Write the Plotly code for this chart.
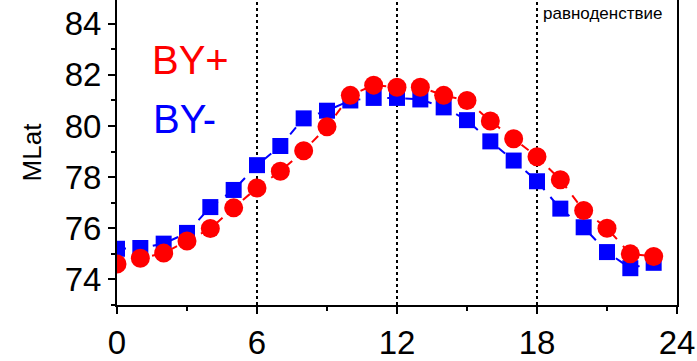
import plotly.graph_objects as go

# Local time (hours)
hours = list(range(24))

# Magnetic latitude of the boundary for positive and negative IMF By
mlat_by_plus = [74.6, 74.83, 75.03, 75.5, 75.99, 76.8, 77.58, 78.23, 79.03, 79.97,
                81.2, 81.6, 81.52, 81.52, 81.2, 81.0, 80.2, 79.5, 78.8, 77.9,
                76.7, 76.0, 75.0, 74.9]
mlat_by_minus = [75.2, 75.23, 75.4, 75.82, 76.83, 77.5, 78.47, 79.22, 80.3, 80.6,
                 81.0, 81.1, 81.1, 81.04, 80.73, 80.23, 79.4, 78.65, 77.84, 76.77,
                 76.04, 75.07, 74.44, 74.65]

marker_hours = [6, 12, 18]
x_ticks = [0, 6, 12, 18, 24]
y_ticks = [74, 76, 78, 80, 82, 84]

FONT = "Liberation Sans, Arial, sans-serif"

fig = go.Figure()

fig.add_trace(go.Scatter(
    x=hours, y=mlat_by_minus, mode="lines+markers",
    line=dict(color="#0000ff", width=2, dash="dash"),
    marker=dict(symbol="square", size=16, color="#0000ff"),
    showlegend=False,
))
fig.add_trace(go.Scatter(
    x=hours, y=mlat_by_plus, mode="lines+markers",
    line=dict(color="#ff0000", width=2, dash="dash"),
    marker=dict(symbol="circle", size=19, color="#ff0000"),
    showlegend=False,
))

for h in marker_hours:
    fig.add_shape(type="line", x0=h, x1=h, y0=0, y1=1, xref="x", yref="paper",
                  line=dict(color="black", width=2, dash="dot"), layer="below")

# Series labels inside the plot area (paper = plot-area fractions)
fig.add_annotation(x=0.132, y=0.804, xref="paper", yref="paper", text="BY+",
                   xanchor="center", yanchor="middle", showarrow=False,
                   font=dict(family=FONT, size=40, color="#ff0000"))
fig.add_annotation(x=0.12, y=0.611, xref="paper", yref="paper", text="BY-",
                   xanchor="center", yanchor="middle", showarrow=False,
                   font=dict(family=FONT, size=40, color="#0000ff"))
fig.add_annotation(x=0.977, y=0.955, xref="paper", yref="paper", text="равноденствие",
                   xanchor="right", yanchor="middle", showarrow=False,
                   font=dict(family=FONT, size=17, color="black"))

fig.update_layout(
    width=697, height=361,
    margin=dict(l=117, r=20, t=0, b=45),
    paper_bgcolor="white", plot_bgcolor="white",
    font=dict(family=FONT, color="black"),
    xaxis=dict(
        range=[0, 24], tickvals=x_ticks, ticktext=[str(v) for v in x_ticks],
        showgrid=False, zeroline=False,
        showline=True, linecolor="black", linewidth=2,
        ticks="outside", ticklen=7, tickwidth=2, tickcolor="black",
        minor=dict(dtick=3, ticks="outside", ticklen=4, tickwidth=2, tickcolor="black"),
        tickfont=dict(family=FONT, size=33, color="black"),
    ),
    yaxis=dict(
        range=[73, 84.93], tickvals=y_ticks, ticktext=[str(v) for v in y_ticks],
        showgrid=False, zeroline=False,
        showline=True, linecolor="black", linewidth=2, mirror=True,
        ticks="outside", ticklen=7, tickwidth=2, tickcolor="black",
        minor=dict(dtick=1, ticks="outside", ticklen=4, tickwidth=2, tickcolor="black"),
        tickfont=dict(family=FONT, size=33, color="black"),
        title=dict(text="MLat", font=dict(family=FONT, size=26, color="black"), standoff=16),
    ),
)

fig.write_html("out.html")
